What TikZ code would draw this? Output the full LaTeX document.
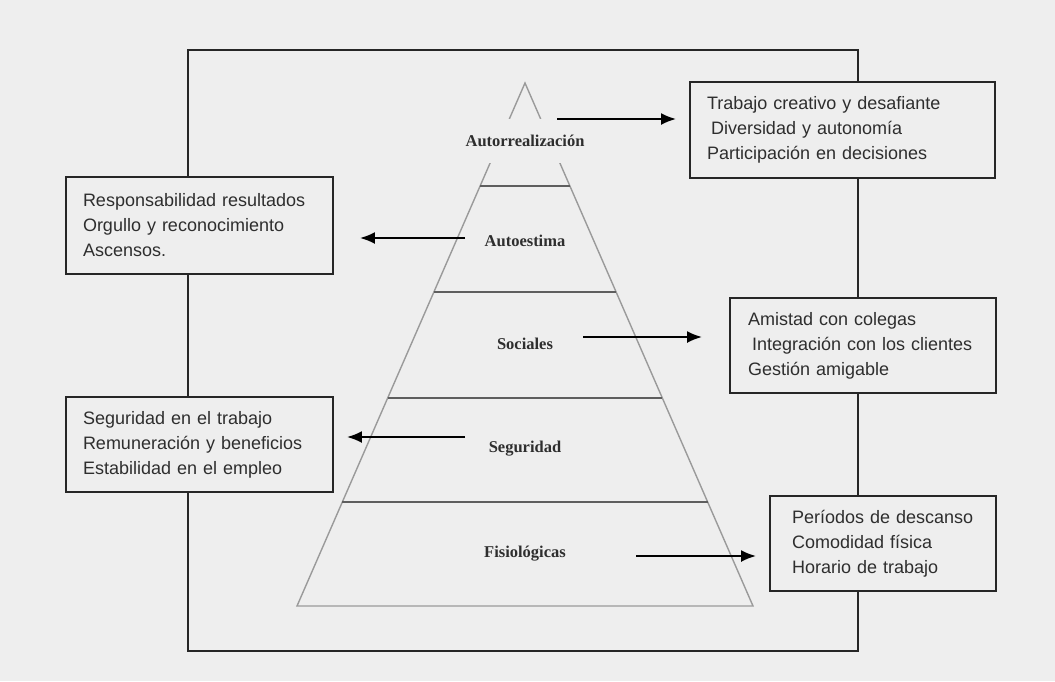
\documentclass[tikz,border=0pt]{standalone}
\usepackage{fontspec}
\setmainfont{Liberation Sans}
\newfontfamily\levelfont{Liberation Serif}
\usepackage{tikz}
\usetikzlibrary{arrows.meta, positioning, calc}

\definecolor{bggray}{HTML}{EEEEEE}
\definecolor{txtgray}{HTML}{2E2E2E}
\definecolor{sidegray}{HTML}{9A9A9A}
\definecolor{bandgray}{HTML}{5E5E5E}

\begin{document}
\begin{tikzpicture}[x=1pt, y=-1pt,
    needbox/.style={draw=black!85, line width=1.8pt, fill=bggray, text=txtgray,
        font=\fontsize{18}{25}\selectfont, align=left, inner xsep=17pt, inner ysep=0pt},
    level/.style={font=\levelfont\bfseries\fontsize{16.5}{18}\selectfont, text=txtgray},
    link/.style={line width=2.2pt, -{Latex[length=15pt, width=12pt]}}]
        % Canvas
        \useasboundingbox (0,0) rectangle (1055,681);
        \fill[bggray] (0,0) rectangle (1055,681);

        % Outer frame
        \draw[line width=2pt, black!85] (188,50) rectangle (858,651);

        % Pyramid
        \coordinate (apex) at (525,83);
        \coordinate (baseL) at (297,606);
        \coordinate (baseR) at (753,606);
        \draw[sidegray, line width=1.4pt] (baseL) -- (apex) -- (baseR) -- cycle;
        \foreach \yy in {186,292,398,502} {
            \pgfmathsetmacro{\hw}{0.43595*(\yy-83)}
            \draw[bandgray, line width=1.4pt] ({525-\hw},\yy) -- ({525+\hw},\yy);
        }

        % Levels
        \node[level, fill=bggray, minimum height=44pt, inner xsep=1pt] (selfreal) at (525,141) {Autorrealización};
        \node[level] (esteem) at (525,241) {Autoestima};
        \node[level] (social) at (525,344) {Sociales};
        \node[level] (safety) at (525,449) {Seguridad};
        \node[level] (physio) at (525,554) {Fisiológicas};

        % Need boxes
        \node[needbox, minimum height=96pt, text width=271pt] (creative) at (842.5,130)
            {Trabajo creativo y desafiante\\ \hspace*{4pt}Diversidad y autonomía\\ Participación en decisiones};
        \node[needbox, minimum height=97pt, text width=233pt] (pride) at (199.5,225.5)
            {Responsabilidad resultados\\ Orgullo y reconocimiento\\ Ascensos.};
        \node[needbox, minimum height=95pt, text width=230pt, inner xsep=18pt] (friends) at (863,345.5)
            {Amistad con colegas\\ \hspace*{4pt}Integración con los clientes\\ Gestión amigable};
        \node[needbox, minimum height=95pt, text width=233pt] (job) at (199.5,444.5)
            {Seguridad en el trabajo\\ Remuneración y beneficios\\ Estabilidad en el empleo};
        \node[needbox, minimum height=95pt, text width=182pt, inner xsep=22pt] (rest) at (883,543.5)
            {Períodos de descanso\\ Comodidad física\\ Horario de trabajo};

        % Arrows
        \coordinate (fromself) at (557,119);
        \coordinate (fromesteem) at (465,238);
        \coordinate (fromsocial) at (583,337);
        \coordinate (fromsafety) at (465,437);
        \coordinate (fromphysio) at (636,556);
        \draw[link, shorten >=13pt] (fromself) -- (fromself -| creative.west);
        \draw[link, shorten >=26pt] (fromesteem) -- (fromesteem -| pride.east);
        \draw[link, shorten >=27pt] (fromsocial) -- (fromsocial -| friends.west);
        \draw[link, shorten >=13pt] (fromsafety) -- (fromsafety -| job.east);
        \draw[link, shorten >=13pt] (fromphysio) -- (fromphysio -| rest.west);

    \end{tikzpicture}
\end{document}
